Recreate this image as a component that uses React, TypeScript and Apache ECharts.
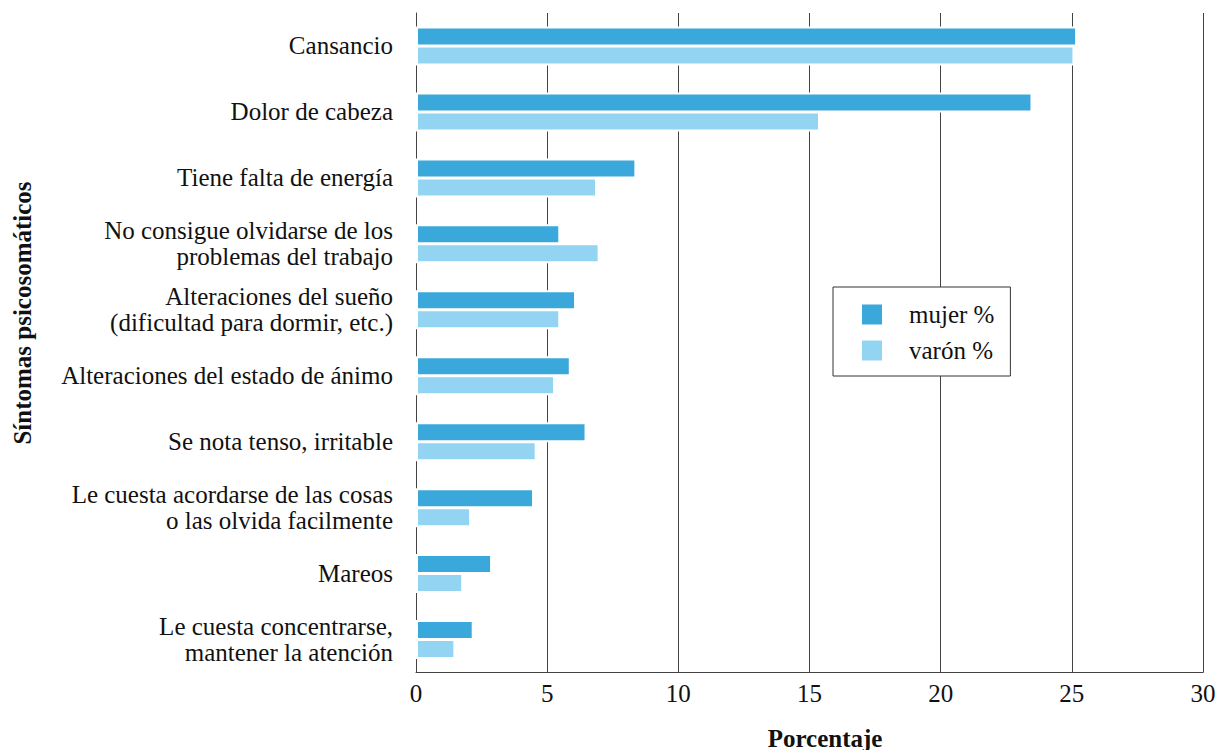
import React, { useEffect, useRef } from "react";
import * as echarts from "echarts";

const categories = [
  "Cansancio",
  "Dolor de cabeza",
  "Tiene falta de energía",
  "No consigue olvidarse de los\nproblemas del trabajo",
  "Alteraciones del sueño\n(dificultad para dormir, etc.)",
  "Alteraciones del estado de ánimo",
  "Se nota tenso, irritable",
  "Le cuesta acordarse de las cosas\no las olvida facilmente",
  "Mareos",
  "Le cuesta concentrarse,\nmantener la atención",
];
const mujer = [25.2, 23.5, 8.4, 5.5, 6.1, 5.9, 6.5, 4.5, 2.9, 2.2];
const varon = [25.1, 15.4, 6.9, 7.0, 5.5, 5.3, 4.6, 2.1, 1.8, 1.5];
const seriesNames = ["mujer %", "varón %"];
const xTitle = "Porcentaje";
const yTitle = "Síntomas psicosomáticos";

const FONT = "'Liberation Serif', 'Times New Roman', serif";

export default function App() {
  const ref = useRef<HTMLDivElement>(null);
  useEffect(() => {
    if (!ref.current) return;
    const chart = echarts.init(ref.current, undefined, { renderer: "svg" });
    chart.setOption({
      animation: false,
      backgroundColor: "#ffffff",
      textStyle: { fontFamily: FONT },
      grid: { left: 416, top: 13, right: 18, bottom: 77.5, containLabel: false },
      xAxis: {
        type: "value",
        min: 0,
        max: 30,
        interval: 5,
        axisLine: { show: true, lineStyle: { color: "#444", width: 1 } },
        axisTick: { show: false },
        axisLabel: { color: "#111", fontSize: 25, fontFamily: FONT, margin: 8 },
        splitLine: { show: true, lineStyle: { color: "#444", width: 1 } },
      },
      yAxis: {
        type: "category",
        data: categories,
        inverse: true,
        axisLine: { show: true, lineStyle: { color: "#444", width: 1 } },
        axisTick: { show: false },
        axisLabel: {
          color: "#111",
          fontSize: 25,
          lineHeight: 26,
          fontFamily: FONT,
          margin: 23,
          align: "right",
        },
        splitLine: { show: false },
      },
      legend: {
        orient: "vertical",
        left: 833,
        top: 287,
        padding: [15, 16, 13, 27],
        itemWidth: 22,
        itemHeight: 22,
        itemGap: 11,
        icon: "rect",
        borderColor: "#333",
        borderWidth: 1,
        backgroundColor: "#ffffff",
        textStyle: {
          color: "#111",
          fontSize: 25,
          lineHeight: 22,
          fontFamily: FONT,
          padding: [0, 0, 0, 21],
        },
        data: seriesNames,
      },
      series: [
        {
          name: seriesNames[0],
          type: "bar",
          data: mujer,
          barWidth: 20,
          barGap: "-5%",
          itemStyle: { color: "#3BA8DB", borderColor: "#ffffff", borderWidth: 2 },
        },
        {
          name: seriesNames[1],
          type: "bar",
          data: varon,
          barWidth: 20,
          barGap: "-5%",
          itemStyle: { color: "#92D4F1", borderColor: "#ffffff", borderWidth: 2 },
        },
      ],
      graphic: [
        {
          type: "text",
          x: 825,
          y: 738,
          style: {
            text: xTitle,
            font: `bold 25px ${FONT}`,
            fill: "#111",
            textAlign: "center",
            textVerticalAlign: "middle",
          },
        },
        {
          type: "text",
          x: 22,
          y: 313,
          rotation: Math.PI / 2,
          style: {
            text: yTitle,
            font: `bold 25px ${FONT}`,
            fill: "#111",
            textAlign: "center",
            textVerticalAlign: "middle",
          },
        },
      ],
    });
    return () => chart.dispose();
  }, []);
  return (
    <div
      ref={ref}
      style={{ position: "fixed", left: 0, top: 0, width: 1221, height: 750 }}
    />
  );
}
